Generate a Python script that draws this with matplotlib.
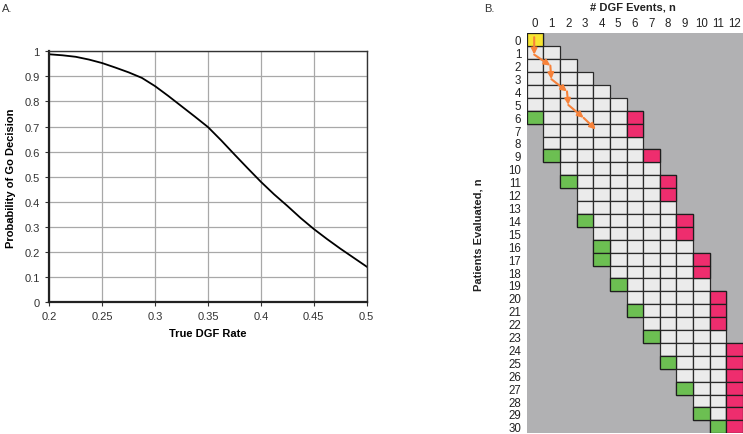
import matplotlib
matplotlib.use("Agg")
import matplotlib.pyplot as plt
from matplotlib.patches import Rectangle
import numpy as np

plt.rcParams['font.family'] = ['Liberation Sans', 'DejaVu Sans']

# ---- Panel A data ----
dgf_rate = [0.2, 0.2125, 0.225, 0.2375, 0.25, 0.2625, 0.275, 0.2875, 0.3,
            0.3125, 0.325, 0.3375, 0.35, 0.3625, 0.375, 0.3875, 0.4, 0.4125,
            0.425, 0.4375, 0.45, 0.4625, 0.475, 0.4875, 0.5]
prob_go = [0.988, 0.984, 0.978, 0.967, 0.953, 0.935, 0.916, 0.894, 0.861,
           0.822, 0.781, 0.740, 0.698, 0.645, 0.589, 0.534, 0.480, 0.430,
           0.384, 0.336, 0.292, 0.252, 0.214, 0.178, 0.142]
x_ticks = [0.2, 0.25, 0.3, 0.35, 0.4, 0.45, 0.5]
x_tick_labels = ['0.2', '0.25', '0.3', '0.35', '0.4', '0.45', '0.5']
y_ticks = [0, 0.1, 0.2, 0.3, 0.4, 0.5, 0.6, 0.7, 0.8, 0.9, 1.0]
y_tick_labels = ['0', '0.1', '0.2', '0.3', '0.4', '0.5', '0.6', '0.7', '0.8', '0.9', '1']

# ---- Panel B data ----
n_cols = 13
n_rows = 31
row_first = [0, 0, 0, 0, 0, 0, 0, 1, 1, 1, 2, 2, 3, 3, 3, 4, 4, 4, 5, 5, 6, 6,
             7, 7, 8, 8, 9, 9, 10, 10, 11]
row_last = [0, 1, 2, 3, 4, 5, 6, 6, 6, 7, 7, 8, 8, 8, 9, 9, 9, 10, 10, 10, 11,
            11, 11, 11, 12, 12, 12, 12, 12, 12, 12]
green_rows = [6, 9, 11, 14, 16, 17, 19, 21, 23, 25, 27, 29, 30]
green_cols = [0, 1, 2, 3, 4, 4, 5, 6, 7, 8, 9, 10, 11]
pink_rows = [6, 7, 9, 11, 12, 14, 15, 17, 18, 20, 21, 22, 24, 25, 26, 27, 28, 29, 30]
pink_cols = [6, 6, 7, 8, 8, 9, 9, 10, 10, 11, 11, 11, 12, 12, 12, 12, 12, 12, 12]
yellow_row, yellow_col = 0, 0
path_cols = [-0.05, -0.05, 0.92, 0.98, 1.92, 2.0, 2.92, 3.65]
path_rows = [-0.2, 1.15, 2.0, 3.05, 4.0, 5.05, 6.05, 6.95]

fig = plt.figure(figsize=(7.43, 4.35), dpi=100)

# ---------------- Panel A ----------------
axA = fig.add_axes([0.0664, 0.3028, 0.4271, 0.577])
axA.plot(dgf_rate, prob_go, color='black', lw=1.3)
axA.set_xlim(0.2, 0.5)
axA.set_ylim(0, 1)
axA.set_xticks(x_ticks)
axA.set_xticklabels(x_tick_labels)
axA.set_yticks(y_ticks)
axA.set_yticklabels(y_tick_labels)
axA.grid(True, color='#a8a8a8', lw=0.9)
axA.set_axisbelow(True)
for s in ['left', 'bottom']:
    axA.spines[s].set_linewidth(1.6)
    axA.spines[s].set_color('#222222')
for s in ['top', 'right']:
    axA.spines[s].set_linewidth(1.0)
    axA.spines[s].set_color('#333333')
axA.tick_params(axis='both', labelsize=8, length=3, width=0.8, color='#333333',
                labelcolor='#333333')
axA.tick_params(axis='x', pad=3)
axA.tick_params(axis='y', pad=4)
axA.set_xlabel('True DGF Rate', fontsize=8, fontweight='bold', labelpad=5)
axA.set_ylabel('Probability of Go Decision', fontsize=8, fontweight='bold', labelpad=6)
fig.text(0.002, 0.99, 'A.', fontsize=8, va='top', ha='left', color='#333333')

# ---------------- Panel B ----------------
axB = fig.add_axes([0.7089, 0.0016, 0.2911, 0.9195])
axB.set_xlim(-0.5, n_cols - 0.5)
axB.set_ylim(n_rows - 0.5, -0.5)
axB.add_patch(Rectangle((-0.5, -0.5), n_cols, n_rows, facecolor='#b1b1b3',
                        edgecolor='none', zorder=0))
for r in range(n_rows):
    for c in range(row_first[r], row_last[r] + 1):
        axB.add_patch(Rectangle((c - 0.5, r - 0.5), 1, 1, facecolor='#ebebeb',
                                edgecolor='#2a2a2a', lw=0.9, zorder=1))
for r, c in zip(green_rows, green_cols):
    axB.add_patch(Rectangle((c - 0.5, r - 0.5), 1, 1, facecolor='#6cbf52',
                            edgecolor='#1e1e1e', lw=0.9, zorder=2))
for r, c in zip(pink_rows, pink_cols):
    axB.add_patch(Rectangle((c - 0.5, r - 0.5), 1, 1, facecolor='#ee2d6e',
                            edgecolor='#1e1e1e', lw=0.9, zorder=2))
axB.add_patch(Rectangle((yellow_col - 0.5, yellow_row - 0.5), 1, 1,
                        facecolor='#f7e531', edgecolor='#1e1e1e', lw=0.9, zorder=2))
for i in range(len(path_cols) - 1):
    axB.annotate('', xy=(path_cols[i + 1], path_rows[i + 1]),
                 xytext=(path_cols[i], path_rows[i]),
                 arrowprops=dict(arrowstyle='-|>', color='#f7823a', lw=1.5,
                                 mutation_scale=8.5, shrinkA=0, shrinkB=0),
                 zorder=5)
axB.set_xticks(range(n_cols))
axB.set_xticklabels([str(c) for c in range(n_cols)])
axB.set_yticks(range(n_rows))
axB.set_yticklabels([str(r) for r in range(n_rows)])
axB.xaxis.tick_top()
axB.tick_params(axis='both', length=0, labelsize=8.3, colors='#222222')
axB.tick_params(axis='x', pad=3)
axB.tick_params(axis='y', pad=4)
for s in axB.spines.values():
    s.set_visible(False)
fig.text(0.852, 0.995, '# DGF Events, n', fontsize=8, fontweight='bold',
         ha='center', va='top', color='#222222')
fig.text(0.644, 0.46, 'Patients Evaluated, n', fontsize=8, fontweight='bold',
         ha='center', va='center', rotation=90, color='#222222')
fig.text(0.652, 0.99, 'B.', fontsize=8, va='top', ha='left', color='#333333')

fig.savefig('out.png', dpi=100)
